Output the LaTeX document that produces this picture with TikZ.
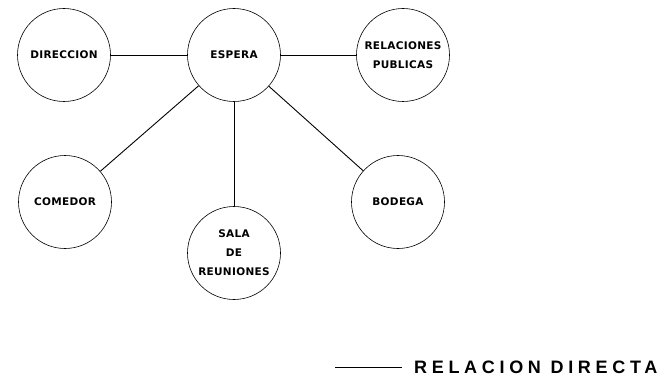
\documentclass[tikz,border=0pt]{standalone}
\usepackage{fontspec}
\setmainfont{Liberation Sans}
\newfontfamily\rotulo{DejaVu Sans}
\usetikzlibrary{math}

\tikzset{
espacio/.style={circle, draw=black, line width=0.6pt, minimum size=93pt, inner sep=0pt, align=center, font=\rotulo\bfseries\fontsize{10.5}{19}\selectfont\addfontfeatures{LetterSpace=3}},
enlace/.style={line width=0.9pt}
}

\begin{document}
\begin{tikzpicture}[x=1pt,y=-1pt]
\tikzmath{
\W=669;
\H=377;
\xa=64;
\xb=234;
\xc=400;
\ya=55;
\yb=202;
}
\useasboundingbox (0,0) rectangle (\W,\H);

%Los espacios:
\node[espacio] (direccion) at (\xa,\ya) {DIRECCION};
\node[espacio] (espera) at (\xb,\ya) {ESPERA};
\node[espacio] (publicas) at (\xc+3,\ya) {RELACIONES\\PUBLICAS};
\node[espacio] (comedor) at (\xa+1,\yb) {COMEDOR};
\node[espacio] (reuniones) at (\xb,\yb+51) {SALA\\DE\\REUNIONES};
\node[espacio] (bodega) at (\xc-2,\yb) {BODEGA};

%Relaciones:
\draw[enlace] (direccion) -- (espera);
\draw[enlace] (espera) -- (publicas);
\draw[enlace] (espera) -- (comedor);
\draw[enlace] (espera) -- (reuniones);
\draw[enlace] (espera) -- (bodega);

%Leyenda:
\coordinate (L1) at (335,367);
\coordinate (L2) at (402,367);
\draw[enlace] (L1) -- (L2);
\node[right, inner sep=0pt, font=\bfseries\fontsize{18}{18}\selectfont\addfontfeatures{LetterSpace=26}] (leyenda) at (414,367) {RELACION DIRECTA};
\end{tikzpicture}
\end{document}
